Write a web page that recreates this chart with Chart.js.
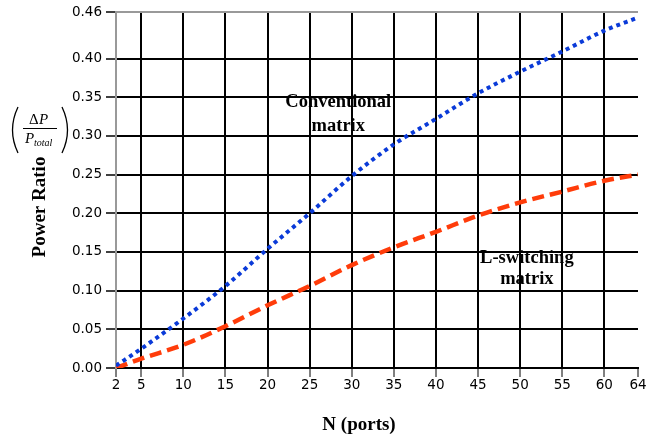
<!DOCTYPE html>
<html>
<head>
<meta charset="utf-8">
<script src="https://cdn.jsdelivr.net/npm/chart.js@4"></script>
<style>
    html, body { margin: 0; padding: 0; background: #fff; }
    #wrap { width: 649px; height: 438px; }
</style>
</head>
<body>
<div id="wrap"><canvas id="powerChart" width="649" height="438"></canvas></div>
<script>
// ---------------- data ----------------
const portsN = [2, 5, 10, 15, 20, 25, 30, 35, 40, 45, 50, 55, 60, 64];
const conventional = [0.003, 0.025, 0.064, 0.106, 0.154, 0.200, 0.248, 0.289, 0.322, 0.355, 0.383, 0.409, 0.436, 0.453];
const lSwitching = [0.000, 0.012, 0.030, 0.054, 0.081, 0.106, 0.133, 0.156, 0.176, 0.197, 0.214, 0.228, 0.242, 0.250];
const xTicks = [2, 5, 10, 15, 20, 25, 30, 35, 40, 45, 50, 55, 60, 64];
const yTicks = [0, 0.05, 0.10, 0.15, 0.20, 0.25, 0.30, 0.35, 0.40, 0.46];

const serif = '"Liberation Serif", "DejaVu Serif", serif';
const sans = '"DejaVu Sans", Verdana, sans-serif';

// labels + y title drawn on the canvas
const labelsPlugin = {
    id: 'labels',
    afterDraw(chart) {
        const c = chart.ctx;
        const x = chart.scales.x, y = chart.scales.y;
        c.save();
        c.fillStyle = '#000';
        c.textAlign = 'center';
        c.textBaseline = 'middle';
        c.font = 'bold 18.5px ' + serif;
        c.fillText('Conventional', x.getPixelForValue(28.4), y.getPixelForValue(0.343));
        c.fillText('matrix', x.getPixelForValue(28.4), y.getPixelForValue(0.313));
        c.fillText('L-switching', x.getPixelForValue(50.8), y.getPixelForValue(0.142));
        c.fillText('matrix', x.getPixelForValue(50.8), y.getPixelForValue(0.115));

        // x title
        c.font = 'bold 19px ' + serif;
        c.fillText('N (ports)', 359, 425);

        // y title
        c.save();
        c.translate(40, 207);
        c.rotate(-Math.PI / 2);
        c.fillText('Power Ratio', 0, 0);
        c.restore();

        // fraction (ΔP / P_total)
        c.textAlign = 'left';
        c.font = '15px ' + serif;
        c.fillText('Δ', 29, 120);
        c.font = 'italic 15px ' + serif;
        c.fillText('P', 39, 120);
        c.fillText('P', 25, 139);
        c.font = 'italic 10px ' + serif;
        c.fillText('total', 34, 143);
        c.strokeStyle = '#000';
        c.lineWidth = 1;
        c.beginPath();
        c.moveTo(23, 128.5);
        c.lineTo(57, 128.5);
        c.stroke();
        // parens
        c.lineWidth = 1.3;
        c.beginPath();
        c.moveTo(18, 107);
        c.quadraticCurveTo(7, 130, 18, 153);
        c.stroke();
        c.beginPath();
        c.moveTo(62, 107);
        c.quadraticCurveTo(73, 130, 62, 153);
        c.stroke();
        c.restore();
    }
};

new Chart(document.getElementById('powerChart').getContext('2d'), {
    type: 'line',
    data: {
        datasets: [
            {
                label: 'Conventional matrix',
                data: portsN.map((n, i) => ({x: n, y: conventional[i]})),
                borderColor: '#0a3ad8',
                borderWidth: 4,
                borderDash: [4, 4],
                pointRadius: 0,
                cubicInterpolationMode: 'monotone',
                fill: false
            },
            {
                label: 'L-switching matrix',
                data: portsN.map((n, i) => ({x: n, y: lSwitching[i]})),
                borderColor: '#ff3c0a',
                borderWidth: 4.5,
                borderDash: [12, 6],
                pointRadius: 0,
                cubicInterpolationMode: 'monotone',
                fill: false
            }
        ]
    },
    options: {
        responsive: false,
        animation: false,
        layout: {padding: {top: 11, right: 11, left: 0, bottom: 0}},
        plugins: {
            legend: {display: false},
            tooltip: {enabled: false}
        },
        scales: {
            x: {
                type: 'linear',
                min: 2,
                max: 64,
                afterFit(scale) { scale.height = 70; },
                afterBuildTicks(scale) { scale.ticks = xTicks.map(v => ({value: v})); },
                ticks: {
                    autoSkip: false,
                    maxRotation: 0,
                    color: '#000',
                    padding: 0,
                    font: {family: sans, size: 13.5}
                },
                grid: {
                    color: ctx => (ctx.tick && ctx.tick.value === 64) ? 'rgba(0,0,0,0)' : '#000',
                    lineWidth: 2,
                    tickColor: '#000',
                    tickWidth: 1,
                    tickLength: 9
                },
                border: {color: '#000', width: 2}
            },
            y: {
                min: 0,
                max: 0.46,
                afterFit(scale) { scale.width = 116; },
                afterBuildTicks(scale) { scale.ticks = yTicks.map(v => ({value: v})); },
                ticks: {
                    autoSkip: false,
                    color: '#000',
                    padding: 4,
                    font: {family: sans, size: 13.5},
                    callback: v => v.toFixed(2)
                },
                grid: {
                    color: ctx => (ctx.tick && ctx.tick.value === 0.46) ? '#999' : '#000',
                    lineWidth: 2,
                    tickColor: '#000',
                    tickWidth: 1.5,
                    tickLength: 10
                },
                border: {color: '#999', width: 2}
            }
        }
    },
    plugins: [labelsPlugin]
});
</script>
</body>
</html>
